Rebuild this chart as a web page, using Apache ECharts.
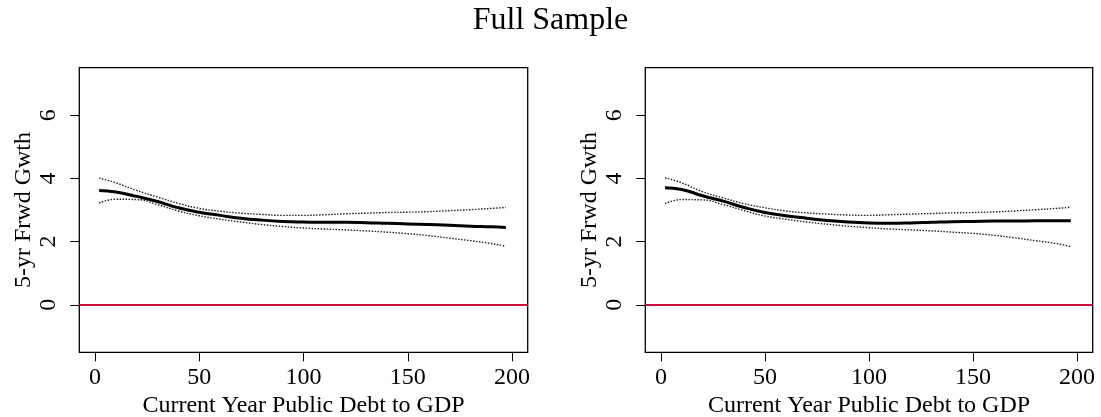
<!DOCTYPE html>
<html>
<head>
<meta charset="utf-8">
<script src="https://cdn.jsdelivr.net/npm/echarts@6/dist/echarts.min.js"></script>
<style>
  html, body { margin: 0; padding: 0; background: #fff; }
  #chart { width: 1101px; height: 417px; }
</style>
</head>
<body>
<div id="chart"></div>
<script>
// Debt-to-GDP grid points where the fitted curves are evaluated
const debtRatio = [2, 10, 20, 30, 40, 50, 60, 70, 80, 90, 100, 110, 120, 130, 140, 150, 160, 170, 180, 190, 197];

// Left panel: fitted 5-year forward growth and its confidence band
const fitLeft   = [3.62, 3.57, 3.43, 3.27, 3.07, 2.93, 2.83, 2.74, 2.68, 2.64, 2.62, 2.61, 2.61, 2.60, 2.58, 2.56, 2.54, 2.52, 2.49, 2.47, 2.45];
const upperLeft = [4.01, 3.86, 3.62, 3.41, 3.21, 3.05, 2.96, 2.90, 2.86, 2.83, 2.83, 2.85, 2.88, 2.90, 2.92, 2.93, 2.95, 2.98, 3.01, 3.05, 3.08];
const lowerLeft = [3.22, 3.34, 3.33, 3.17, 2.97, 2.82, 2.71, 2.62, 2.54, 2.48, 2.43, 2.40, 2.37, 2.34, 2.30, 2.25, 2.19, 2.11, 2.03, 1.94, 1.85];

// Right panel: fitted 5-year forward growth and its confidence band
const fitRight   = [3.70, 3.65, 3.45, 3.28, 3.08, 2.92, 2.82, 2.74, 2.67, 2.62, 2.59, 2.58, 2.59, 2.61, 2.63, 2.64, 2.65, 2.65, 2.66, 2.66, 2.66];
const upperRight = [4.02, 3.86, 3.58, 3.38, 3.20, 3.07, 2.97, 2.91, 2.87, 2.84, 2.83, 2.85, 2.87, 2.89, 2.91, 2.92, 2.94, 2.97, 3.01, 3.05, 3.09];
const lowerRight = [3.20, 3.33, 3.32, 3.17, 2.98, 2.81, 2.71, 2.62, 2.55, 2.49, 2.44, 2.40, 2.37, 2.34, 2.30, 2.26, 2.20, 2.12, 2.03, 1.94, 1.84];

// Axis ticks and labels
const xTicks = [0, 50, 100, 150, 200];
const yTicks = [0, 2, 4, 6];
const chartTitle = 'Full Sample';
const xTitle = 'Current Year Public Debt to GDP';
const yTitle = '5-yr Frwd Gwth';

const FONT = '"Liberation Serif", "Times New Roman", serif';

const pairs = (ys) => debtRatio.map((x, i) => [x, ys[i]]);

function makeXAxis(gridIndex) {
  return {
    type: 'value', gridIndex, min: -7.5, max: 207.5, position: 'bottom',
    splitLine: { show: false },
    axisLine: { show: false, onZero: false },
    axisTick: { show: true, inside: false, customValues: xTicks, length: 9, lineStyle: { color: '#000', width: 1 } },
    axisLabel: { show: true, customValues: xTicks, color: '#000', fontFamily: FONT, fontSize: 24, margin: 13 },
    name: xTitle, nameLocation: 'middle', nameGap: 36,
    nameTextStyle: { color: '#000', fontFamily: FONT, fontSize: 24 }
  };
}

function makeYAxis(gridIndex) {
  return {
    type: 'value', gridIndex, min: -1.5, max: 7.5, position: 'left',
    splitLine: { show: false },
    axisLine: { show: false, onZero: false },
    axisTick: { show: true, inside: false, customValues: yTicks, length: 9, lineStyle: { color: '#000', width: 1 } },
    axisLabel: { show: true, customValues: yTicks, rotate: 90, color: '#000', fontFamily: FONT, fontSize: 24, margin: 19 },
    name: yTitle, nameLocation: 'middle', nameGap: 44,
    nameTextStyle: { color: '#000', fontFamily: FONT, fontSize: 24 }
  };
}

function curve(idx, data, kind) {
  const main = kind === 'fit';
  return {
    type: 'line', xAxisIndex: idx, yAxisIndex: idx,
    data, smooth: 0.5, showSymbol: false, silent: true,
    lineStyle: main
      ? { color: '#000', width: 3 }
      : { color: '#222', width: 1.4, type: [1.5, 1.5] },
    z: main ? 4 : 3
  };
}

function zeroLine(idx) {
  return {
    type: 'line', xAxisIndex: idx, yAxisIndex: idx, data: [], silent: true,
    markLine: {
      silent: true, symbol: 'none', label: { show: false },
      lineStyle: { color: '#cc1040', width: 2, type: 'solid' },
      data: [{ yAxis: 0 }]
    },
    z: 2
  };
}

const gridBase = {
  top: 67.7, height: 284.6, show: true, borderColor: '#000', borderWidth: 1.3,
  backgroundColor: 'transparent', containLabel: false, outerBoundsMode: 'none'
};

const chart = echarts.init(document.getElementById('chart'), null, { renderer: 'canvas' });
chart.setOption({
  animation: false,
  backgroundColor: '#fff',
  title: {
    text: chartTitle, left: 'center', top: 5, padding: 0,
    textStyle: { color: '#000', fontFamily: FONT, fontSize: 32, fontWeight: 'normal' }
  },
  grid: [
    Object.assign({ left: 79.3, width: 448.4 }, gridBase),
    Object.assign({ left: 645.3, width: 447.4 }, gridBase)
  ],
  xAxis: [makeXAxis(0), makeXAxis(1)],
  yAxis: [makeYAxis(0), makeYAxis(1)],
  series: [
    zeroLine(0),
    curve(0, pairs(upperLeft), 'band'),
    curve(0, pairs(lowerLeft), 'band'),
    curve(0, pairs(fitLeft), 'fit'),
    zeroLine(1),
    curve(1, pairs(upperRight), 'band'),
    curve(1, pairs(lowerRight), 'band'),
    curve(1, pairs(fitRight), 'fit')
  ]
});
</script>
</body>
</html>
